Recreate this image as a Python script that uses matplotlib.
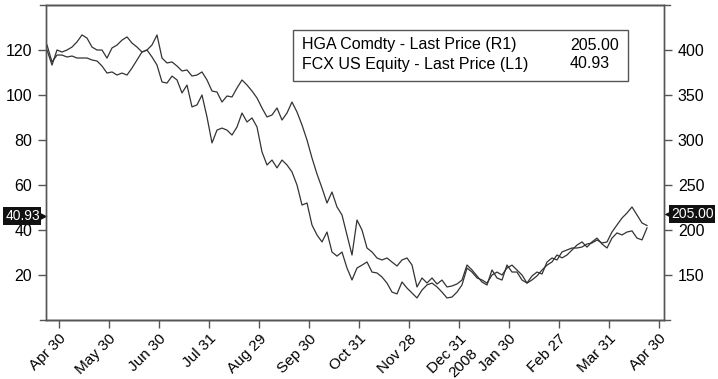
import numpy as np
import matplotlib
matplotlib.use("Agg")
import matplotlib.pyplot as plt
from matplotlib.patches import Rectangle
from matplotlib.lines import Line2D
from matplotlib.transforms import offset_copy, blended_transform_factory

plt.rcParams['font.family'] = ['Liberation Sans', 'DejaVu Sans']

# month-end tick labels (trading-day axis, one unit per month)
month_labels = ["Apr 30", "May 30", "Jun 30", "Jul 31", "Aug 29", "Sep 30",
                "Oct 31", "Nov 28", "Dec 31", "Jan 30", "Feb 27",
                "Mar 31", "Apr 30"]
year_label = "2008"
year_tick = 8

# FCX US Equity, left axis (sampled every ~2 trading days)
fcx = [120.0, 113.3, 120.0, 119.1, 120.0, 121.3, 123.6, 126.7, 125.3, 121.3,
       120.0, 120.0, 116.4, 120.9, 122.2, 124.4, 125.8, 123.1, 121.3, 119.1,
       120.0, 116.9, 113.3, 105.8, 105.3, 108.4, 106.7, 100.9, 104.4, 94.7,
       95.6, 100.0, 90.2, 78.7, 84.4, 85.3, 84.4, 82.2, 85.8, 92.0,
       88.0, 89.8, 85.8, 74.7, 68.9, 71.1, 67.6, 71.1, 68.9, 65.8,
       60.0, 51.1, 52.0, 42.2, 37.8, 34.7, 39.1, 30.2, 28.4, 30.2,
       23.1, 17.8, 23.1, 24.4, 25.8, 21.3, 20.9, 19.1, 16.4, 12.4,
       11.6, 16.9, 14.2, 12.0, 9.8, 13.3, 15.6, 16.4, 14.7, 12.4,
       9.8, 10.2, 12.4, 15.6, 23.1, 21.3, 18.7, 17.8, 16.4, 20.0,
       21.3, 20.0, 23.1, 24.4, 22.2, 20.0, 16.4, 17.8, 19.6, 22.2,
       24.4, 25.8, 28.9, 27.6, 28.9, 31.1, 33.3, 34.7, 32.4, 34.7,
       36.4, 33.8, 32.0, 36.4, 38.7, 37.8, 39.1, 39.6, 36.4, 35.6,
       40.93]

# HGA Comdty, right axis
hga = [405.6, 386.7, 394.4, 394.4, 392.2, 393.3, 391.1, 391.1, 391.1, 388.9,
       387.8, 382.2, 374.4, 375.6, 372.2, 374.4, 372.2, 380.0, 388.9, 397.8,
       400.0, 405.6, 416.7, 391.1, 385.6, 386.7, 382.2, 376.7, 377.8, 371.1,
       372.2, 375.6, 366.7, 354.4, 353.3, 342.2, 348.9, 347.8, 357.8, 366.7,
       361.1, 354.4, 346.7, 335.6, 325.6, 327.8, 335.6, 322.2, 330.0, 342.2,
       331.1, 316.7, 300.0, 280.0, 262.2, 246.7, 230.0, 242.2, 225.6, 216.7,
       194.4, 172.2, 211.1, 200.0, 180.0, 175.6, 168.9, 166.7, 168.9, 164.4,
       160.0, 166.7, 168.9, 161.1, 136.7, 146.7, 141.1, 146.7, 140.0, 144.4,
       136.7, 137.8, 140.0, 144.4, 161.1, 155.6, 148.9, 142.2, 138.9, 155.6,
       146.7, 144.4, 161.1, 153.3, 153.3, 144.4, 141.1, 148.9, 153.3, 151.1,
       164.4, 168.9, 166.7, 175.6, 177.8, 180.0, 180.0, 181.1, 184.4, 185.6,
       188.9, 185.6, 186.7, 197.8, 205.6, 213.3, 218.9, 225.6, 216.7, 207.8,
       205.00]

legend_names = ["HGA Comdty - Last Price (R1)", "FCX US Equity - Last Price (L1)"]
legend_vals = [hga[-1], fcx[-1]]

x = -0.24 + 0.1 * np.arange(len(fcx))
line_col = '#333333'
spine_col = '#555555'

fig = plt.figure(figsize=(7.18, 3.79), dpi=100)
ax = fig.add_axes([46 / 718, 1 - 320 / 379, 618 / 718, 315 / 379])
ax2 = ax.twinx()

ax.plot(x, fcx, color=line_col, lw=0.9)
ax2.plot(x, hga, color=line_col, lw=0.9)

ax.set_xlim(-0.26, 12.1)
ax.set_ylim(0, 140)
ax2.set_ylim(100, 450)
ax.set_yticks(np.arange(20, 121, 20))
ax2.set_yticks(np.arange(150, 401, 50))
ax.set_xticks(np.arange(len(month_labels)))
ax.set_xticklabels(month_labels, rotation=45, ha='right', rotation_mode='anchor')

for a in (ax, ax2):
    for s in a.spines.values():
        s.set_color(spine_col)
        s.set_linewidth(1.0)
    a.tick_params(length=6, width=1, color=spine_col, labelsize=11.5, pad=4)
ax.tick_params(axis='x', pad=2.5, labelsize=11)

# year marker under the first tick of the new year
ax.annotate(year_label, xy=(year_tick, 0), xycoords=('data', 'axes fraction'),
            xytext=(8.5, -18.5), textcoords='offset points', fontsize=11,
            rotation=45, ha='right', va='top', rotation_mode='anchor',
            annotation_clip=False)

# top and bottom frame lines run a little past the side spines
for yy in (0, 1):
    ax.add_line(Line2D([-0.0097, 1.0097], [yy, yy], transform=ax.transAxes,
                       color=spine_col, lw=1.0, clip_on=False))

# legend box with last prices
bx0, bx1 = (293 - 46) / 618, (628 - 46) / 618
by0, by1 = (320 - 81) / 315, (320 - 30) / 315
ax.add_patch(Rectangle((bx0, by0), bx1 - bx0, by1 - by0, transform=ax.transAxes,
                       fill=True, fc='white', ec=spine_col, lw=1.0, zorder=5))
for i, (name, val) in enumerate(zip(legend_names, legend_vals)):
    yy = (320 - (45 + 19 * i)) / 315
    ax.text((302 - 46) / 618, yy, name, transform=ax.transAxes, fontsize=11.5,
            va='center', ha='left', zorder=6)
    ax.text((570 - 46) / 618, yy, f"{val:.2f}", transform=ax.transAxes,
            fontsize=11.5, va='center', ha='left', zorder=6)

# last-price tags on both axes, with a small pointer toward the axis
tag_col = '#111111'
tag_kw = dict(textcoords='offset points', va='center', color='white', fontsize=10,
              bbox=dict(boxstyle='square,pad=0.12', fc=tag_col, ec='none'),
              annotation_clip=False)
for a, val, side, dx, dy, mk, ha in ((ax, fcx[-1], 0, -4.5, 8.6, '>', 'right'),
                                     (ax2, hga[-1], 1, 5.0, 8.3, '<', 'left')):
    a.annotate(f"{val:.2f}", xy=(side, val), xycoords=('axes fraction', 'data'),
               xytext=(dx, dy), ha=ha, **tag_kw)
    tr = offset_copy(blended_transform_factory(a.transAxes, a.transData), fig=fig,
                     x=dx * 0.7, y=dy, units='points')
    a.plot([side], [val], marker=mk, ms=7, color=tag_col, mec='none',
           transform=tr, clip_on=False)

fig.savefig("out.png", dpi=100)
